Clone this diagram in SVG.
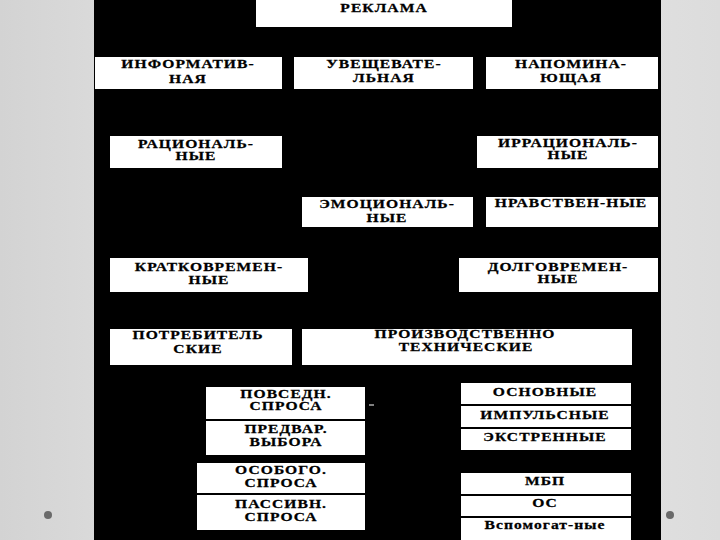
<svg xmlns="http://www.w3.org/2000/svg" width="720" height="540" viewBox="0 0 720 540">
<defs>
<linearGradient id="bg" x1="0" y1="0" x2="1" y2="0">
<stop offset="0" stop-color="#d3d3d3"/>
<stop offset="0.5" stop-color="#ececec"/>
<stop offset="1" stop-color="#dcdcdc"/>
</linearGradient>
<style>
.box{fill:#ffffff;stroke:none}
.sep{stroke:#000;stroke-width:2}
text{font-family:"Liberation Serif","Times New Roman",serif;font-weight:bold;font-size:12px;letter-spacing:0.8px;fill:#000;stroke:#000;stroke-width:0.25;text-anchor:middle}
.dot{fill:#6a6a6a}
</style>
</defs>
<rect x="0" y="0" width="720" height="540" fill="url(#bg)"/>
<rect x="94" y="0" width="567" height="540" fill="#000"/>
<circle class="dot" cx="48" cy="515" r="4"/>
<circle class="dot" cx="670" cy="515" r="4"/>

<g id="reklama"><rect class="box" x="256" y="0" width="256" height="27"/><text transform="translate(384,12) scale(1.3,1)">РЕКЛАМА</text></g>

<g id="inform"><rect class="box" x="95" y="57" width="187" height="32"/><text transform="translate(188,68) scale(1.3,1)">ИНФОРМАТИВ-</text><text transform="translate(188,83) scale(1.3,1)">НАЯ</text></g>
<g id="uvesch"><rect class="box" x="294" y="57" width="179" height="32"/><text transform="translate(384,68) scale(1.3,1)">УВЕЩЕВАТЕ-</text><text transform="translate(384,82) scale(1.3,1)">ЛЬНАЯ</text></g>
<g id="napomin"><rect class="box" x="486" y="57" width="172" height="32"/><text transform="translate(571,68) scale(1.3,1)">НАПОМИНА-</text><text transform="translate(571,82) scale(1.3,1)">ЮЩАЯ</text></g>

<g id="racion"><rect class="box" x="110" y="136" width="172" height="32"/><text transform="translate(196,148) scale(1.3,1)">РАЦИОНАЛЬ-</text><text transform="translate(196,160) scale(1.3,1)">НЫЕ</text></g>
<g id="irracion"><rect class="box" x="477" y="136" width="181" height="32"/><text transform="translate(568,147) scale(1.3,1)">ИРРАЦИОНАЛЬ-</text><text transform="translate(568,159) scale(1.3,1)">НЫЕ</text></g>

<g id="emocion"><rect class="box" x="302" y="197" width="171" height="30"/><text transform="translate(387,208) scale(1.3,1)">ЭМОЦИОНАЛЬ-</text><text transform="translate(387,222) scale(1.3,1)">НЫЕ</text></g>
<g id="nravst"><rect class="box" x="486" y="197" width="172" height="30"/><text transform="translate(571,207) scale(1.3,1)">НРАВСТВЕН-НЫЕ</text></g>

<g id="kratko"><rect class="box" x="110" y="258" width="198" height="34"/><text transform="translate(209,271) scale(1.3,1)">КРАТКОВРЕМЕН-</text><text transform="translate(209,284) scale(1.3,1)">НЫЕ</text></g>
<g id="dolgo"><rect class="box" x="459" y="258" width="199" height="34"/><text transform="translate(558,271) scale(1.3,1)">ДОЛГОВРЕМЕН-</text><text transform="translate(558,283) scale(1.3,1)">НЫЕ</text></g>

<g id="potreb"><rect class="box" x="110" y="329" width="182" height="36"/><text transform="translate(198,339) scale(1.3,1)">ПОТРЕБИТЕЛЬ</text><text transform="translate(198,353) scale(1.3,1)">СКИЕ</text></g>
<g id="proizv"><rect class="box" x="302" y="329" width="330" height="36"/><text transform="translate(465,338) scale(1.3,1)">ПРОИЗВОДСТВЕННО</text><text transform="translate(466,351) scale(1.3,1)">ТЕХНИЧЕСКИЕ</text></g>

<g id="povsedn-stack">
<rect class="box" x="206" y="387" width="159" height="68"/>
<line class="sep" x1="206" y1="420" x2="365" y2="420"/>
<text transform="translate(286,398) scale(1.3,1)">ПОВСЕДН.</text><text transform="translate(286,410) scale(1.3,1)">СПРОСА</text>
<text transform="translate(286,433) scale(1.3,1)">ПРЕДВАР.</text><text transform="translate(286,446) scale(1.3,1)">ВЫБОРА</text>
<line x1="369" y1="405" x2="374" y2="405" stroke="#fff" stroke-width="1"/>
</g>
<g id="osobogo-stack">
<rect class="box" x="197" y="463" width="168" height="67"/>
<line class="sep" x1="197" y1="494" x2="365" y2="494"/>
<text transform="translate(281,474) scale(1.3,1)">ОСОБОГО.</text><text transform="translate(281,487) scale(1.3,1)">СПРОСА</text>
<text transform="translate(281,508) scale(1.3,1)">ПАССИВН.</text><text transform="translate(281,521) scale(1.3,1)">СПРОСА</text>
</g>

<g id="osnov-stack">
<rect class="box" x="461" y="383" width="170" height="67"/>
<line class="sep" x1="461" y1="405" x2="632" y2="405"/>
<line class="sep" x1="461" y1="428" x2="632" y2="428"/>
<text transform="translate(545,396) scale(1.3,1)">ОСНОВНЫЕ</text>
<text transform="translate(545,419) scale(1.3,1)">ИМПУЛЬСНЫЕ</text>
<text transform="translate(545,441) scale(1.3,1)">ЭКСТРЕННЫЕ</text>
</g>
<g id="mbp-stack">
<rect class="box" x="461" y="473" width="170" height="67"/>
<line class="sep" x1="461" y1="495" x2="632" y2="495"/>
<line class="sep" x1="461" y1="517" x2="632" y2="517"/>
<text transform="translate(545,485) scale(1.3,1)">МБП</text>
<text transform="translate(545,507) scale(1.3,1)">ОС</text>
<text transform="translate(545,529) scale(1.3,1)">Вспомогат-ные</text>
</g>
<g id="connectors"></g>
</svg>
